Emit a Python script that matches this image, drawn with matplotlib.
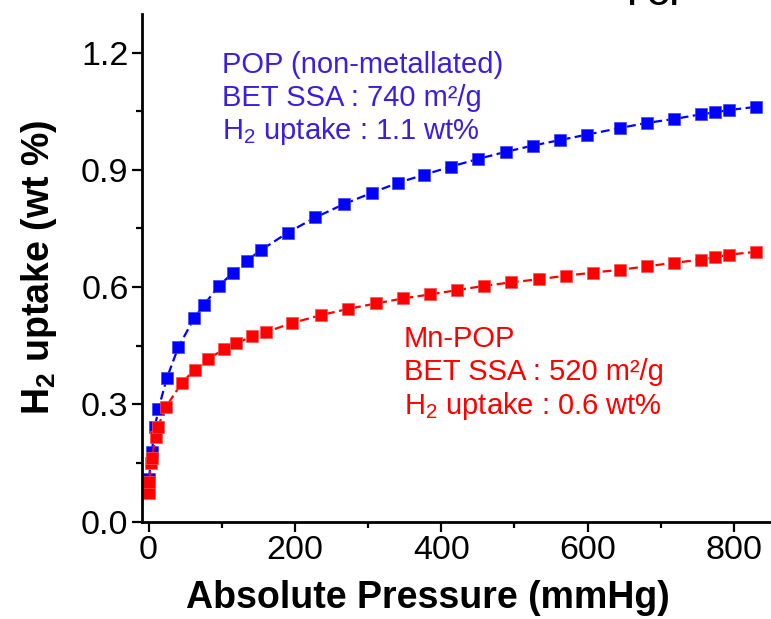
import matplotlib
matplotlib.use("Agg")
import matplotlib.pyplot as plt
from matplotlib.ticker import MultipleLocator, FormatStrFormatter

plt.rcParams['font.family'] = ['Liberation Sans', 'DejaVu Sans']
plt.rcParams['mathtext.default'] = 'regular'

# ---- data ----
pop_p = [0.7, 4.4, 8.9, 13.4, 24.9, 40.7, 62.6, 75.9, 96.4, 115.5, 134.2, 153.3, 190.2, 228.0,
         266.8, 305.0, 341.4, 376.1, 413.0, 450.7, 488.2, 525.1, 562.0, 599.3, 644.4, 680.9,
         718.2, 755.1, 774.2, 793.4, 829.8]
pop_v = [0.11, 0.177, 0.243, 0.287, 0.366, 0.446, 0.521, 0.555, 0.603, 0.637, 0.667, 0.694,
         0.739, 0.778, 0.812, 0.841, 0.867, 0.887, 0.908, 0.928, 0.946, 0.962, 0.976, 0.990,
         1.007, 1.020, 1.030, 1.042, 1.047, 1.053, 1.061]

mn_p = [0.3, 1.1, 3.0, 4.4, 9.8, 12.6, 23.5, 45.4, 63.1, 81.3, 103.6, 120.0, 141.5, 160.6,
        196.5, 235.3, 272.6, 310.7, 348.2, 384.7, 421.6, 458.5, 495.8, 533.3, 570.2, 607.5,
        644.0, 680.9, 718.2, 755.1, 774.2, 793.4, 829.8]
mn_v = [0.072, 0.102, 0.149, 0.162, 0.217, 0.241, 0.292, 0.355, 0.388, 0.416, 0.441, 0.456,
        0.474, 0.485, 0.508, 0.528, 0.544, 0.558, 0.571, 0.581, 0.592, 0.603, 0.612, 0.620,
        0.629, 0.637, 0.644, 0.653, 0.662, 0.670, 0.676, 0.683, 0.690]

pop_lines = ["POP (non-metallated)", "BET SSA : 740 m²/g", "H$_2$ uptake : 1.1 wt%"]
mn_lines = ["Mn-POP", "BET SSA : 520 m²/g", "H$_2$ uptake : 0.6 wt%"]

W, H = 771, 619
fig = plt.figure(figsize=(W / 100, H / 100), dpi=100)
ax = fig.add_axes([141.7 / W, 1 - 521.5 / H, 1 - 141.7 / W, (521.5 - 13.5) / H])

ax.plot(pop_p, pop_v, color='#0000FF', marker='s', markersize=8.7, lw=1.6,
        dashes=(4, 2), markeredgewidth=0.5, markeredgecolor='#4040ff')
ax.plot(mn_p, mn_v, color='#FF0000', marker='s', markersize=8.7, lw=1.6,
        dashes=(4, 2), markeredgewidth=0.5, markeredgecolor='#ff5050')

ax.set_xlim(-9.3, 850.7)
ax.set_ylim(0, 1.3)
ax.xaxis.set_major_locator(MultipleLocator(200))
ax.xaxis.set_minor_locator(MultipleLocator(100))
ax.yaxis.set_major_locator(MultipleLocator(0.3))
ax.yaxis.set_minor_locator(MultipleLocator(0.15))
ax.yaxis.set_major_formatter(FormatStrFormatter('%.1f'))

for s in ['top', 'right']:
    ax.spines[s].set_visible(False)
for s in ['left', 'bottom']:
    ax.spines[s].set_linewidth(2.0)

ax.tick_params(which='major', direction='out', length=7.5, width=1.6, labelsize=24.5, pad=2)
ax.tick_params(which='minor', direction='out', length=4, width=1.6)

ax.set_xlabel("Absolute Pressure (mmHg)", fontsize=27, fontweight='bold')
ax.xaxis.set_label_coords((428 - 141.7) / (W - 141.7), -0.115)
ax.set_ylabel("H$_2$ uptake (wt %)", fontsize=27, fontweight='bold')
ax.yaxis.set_label_coords(-(141.7 - 59) / (W - 141.7), 0.5)

blue_txt = '#3a1fe0'
for i, t in enumerate(pop_lines):
    fig.text(222 / W, 1 - (73 + 33 * i) / H, t, color=blue_txt, fontsize=21,
             ha='left', va='baseline')
for i, t in enumerate(mn_lines):
    fig.text(404 / W, 1 - (346.7 + 33.5 * i) / H, t, color='#FF0000', fontsize=21,
             ha='left', va='baseline')

fig.text(659 / W, 1 - 5 / H, "POP", fontsize=21, fontweight='bold', ha='center', va='baseline')

fig.savefig("out.png", dpi=100)
